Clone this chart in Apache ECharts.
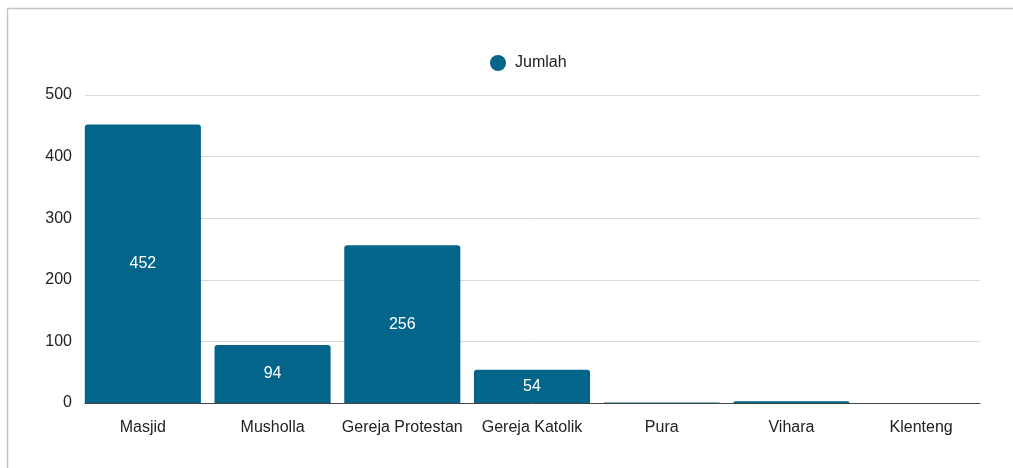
<!DOCTYPE html>
<html><head><meta charset="utf-8">
<script src="https://cdn.jsdelivr.net/npm/echarts@6/dist/echarts.min.js"></script>
<style>html,body{margin:0;padding:0;background:#fff}#c{width:1013px;height:468px}</style>
</head><body><div id="c"></div>
<script>
var categories = ["Masjid","Musholla","Gereja Protestan","Gereja Katolik","Pura","Vihara","Klenteng"];
var values = [452,94,256,54,1,3,0];
var seriesName = "Jumlah";
var yTicks = {min:0,max:500,interval:100};
var chart = echarts.init(document.getElementById('c'));
chart.setOption({
  animation:false,
  textStyle:{fontFamily:'Liberation Sans, Arial, sans-serif'},
  graphic:[
    {type:'line',shape:{x1:7.5,y1:8.5,x2:1013,y2:8.5},style:{stroke:'#c4c4c4',lineWidth:1.5}},
    {type:'line',shape:{x1:7.5,y1:8.5,x2:7.5,y2:468},style:{stroke:'#c4c4c4',lineWidth:1.5}}
  ],
  legend:{top:50,left:485,itemWidth:16,itemHeight:16,itemGap:10,icon:'circle',
    textStyle:{fontSize:16,color:'#222',padding:[0,0,0,4]},data:[seriesName]},
  grid:[
    {left:85,right:33,top:95,bottom:65},
    {left:78,right:27,top:95,bottom:65}
  ],
  xAxis:[
    {gridIndex:0,type:'category',data:categories,
      axisLine:{lineStyle:{color:'#444',width:1}},axisTick:{show:false},axisLabel:{show:false}},
    {gridIndex:1,type:'category',data:categories,
      axisLine:{show:false},axisTick:{show:false},
      axisLabel:{fontSize:16,color:'#222',margin:17,interval:0}}
  ],
  yAxis:[
    {gridIndex:0,type:'value',min:yTicks.min,max:yTicks.max,interval:yTicks.interval,
      axisLine:{show:false},axisTick:{show:false},
      splitLine:{lineStyle:{color:'#d9d9d9'}},
      axisLabel:{fontSize:16,color:'#222',margin:13}},
    {gridIndex:1,type:'value',min:yTicks.min,max:yTicks.max,interval:yTicks.interval,
      show:false,splitLine:{show:false}}
  ],
  series:[{name:seriesName,type:'bar',xAxisIndex:1,yAxisIndex:1,data:values,barCategoryGap:'10.5%',z:3,
    itemStyle:{color:'#04658a',borderRadius:[3,3,0,0]},
    label:{show:true,position:'inside',color:'#fff',fontSize:16,
      formatter:function(p){return p.value>=10?p.value:'';}}}]
});
</script></body></html>
